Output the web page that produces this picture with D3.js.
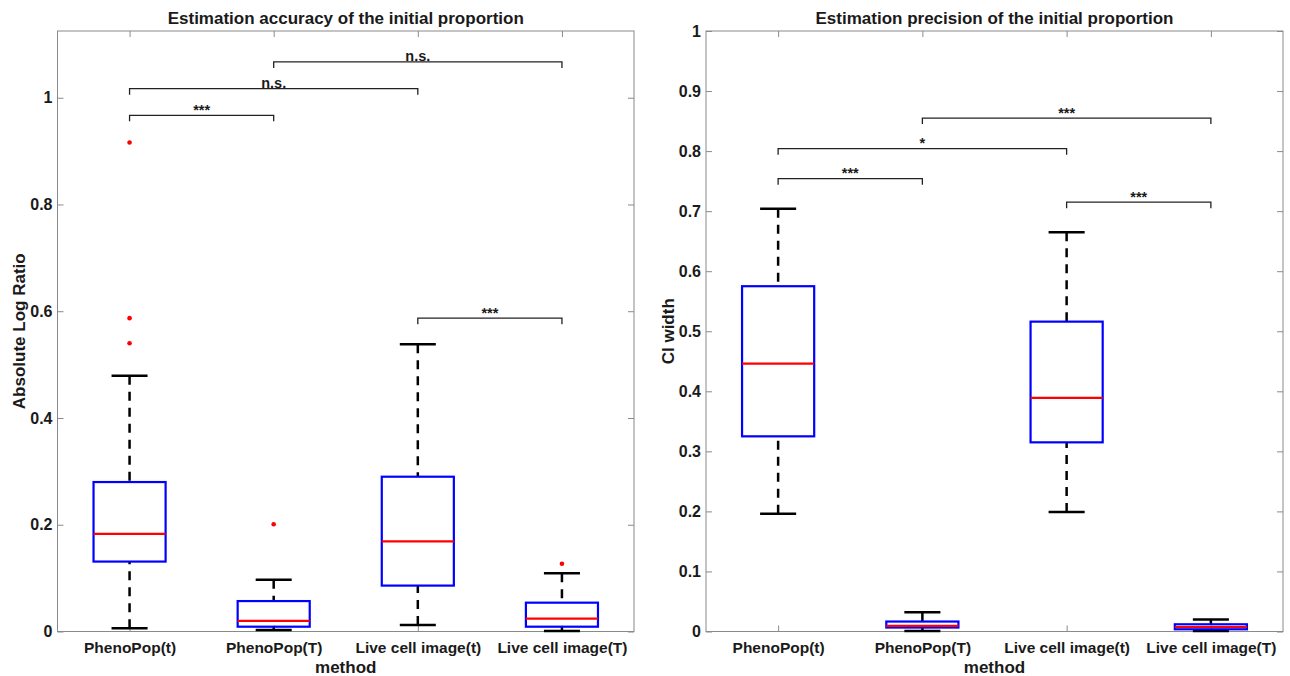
<!DOCTYPE html>
<html>
<head>
<meta charset="utf-8">
<script src="https://cdn.jsdelivr.net/npm/d3@7"></script>
<style>
  html, body { margin: 0; padding: 0; background: #fff; }
  svg text { font-family: "Liberation Sans", Arial, Helvetica, sans-serif; font-weight: bold; fill: #1a1a1a; }
</style>
</head>
<body>
<svg id="chart" width="1290" height="676"></svg>
<script>
// categories shared by both panels
var categories = ["PhenoPop(t)", "PhenoPop(T)", "Live cell image(t)", "Live cell image(T)"];

// left panel: absolute log ratio
var accLow = [0.006, 0.003, 0.012, 0.001];
var accQ1 = [0.131, 0.009, 0.086, 0.009];
var accMedian = [0.183, 0.020, 0.169, 0.024];
var accQ3 = [0.280, 0.057, 0.290, 0.054];
var accHigh = [0.479, 0.097, 0.538, 0.109];
var accOutliers = [[0.916, 0.587, 0.540], [0.201], [], [0.127]];
var accTicks = [0, 0.2, 0.4, 0.6, 0.8, 1];
// [from, to, level, label]
var accPairs = [[1, 2, 0.967, "***"], [1, 3, 1.017, "n.s."], [2, 4, 1.067, "n.s."], [3, 4, 0.587, "***"]];

// right panel: CI width
var preLow = [0.196, 0.001, 0.199, 0.001];
var preQ1 = [0.325, 0.0066, 0.315, 0.0037];
var preMedian = [0.446, 0.0095, 0.389, 0.0075];
var preQ3 = [0.575, 0.0166, 0.516, 0.012];
var preHigh = [0.704, 0.032, 0.665, 0.020];
var preOutliers = [[], [], [], []];
var preTicks = [0, 0.1, 0.2, 0.3, 0.4, 0.5, 0.6, 0.7, 0.8, 0.9, 1];
var prePairs = [[1, 2, 0.754, "***"], [1, 3, 0.804, "*"], [2, 4, 0.855, "***"], [3, 4, 0.715, "***"]];

var svg = d3.select("#chart");

function drawPanel(opt) {
    var left = opt.left, right = opt.right, top = 31, bottom = 631.5;

    var x = d3.scaleLinear().domain([0.5, 4.5]).range([left, right]);
    var y = d3.scaleLinear().domain([0, opt.ymax]).range([bottom, top]);

    var g = svg.append("g");
    var fmt = d3.format("~g");

    // axes with inward ticks
    var ax = g.append("g").attr("transform", "translate(" + left + ",0)")
        .call(d3.axisLeft(y).tickValues(opt.ticks).tickSize(-6).tickPadding(5).tickFormat(fmt));
    var axR = g.append("g").attr("transform", "translate(" + right + ",0)")
        .call(d3.axisRight(y).tickValues(opt.ticks).tickSize(-6).tickFormat(""));
    var axB = g.append("g").attr("transform", "translate(0," + bottom + ")")
        .call(d3.axisBottom(x).tickValues([1, 2, 3, 4]).tickSize(-6).tickPadding(10)
            .tickFormat(function(d) { return categories[d - 1]; }));
    var axT = g.append("g").attr("transform", "translate(0," + top + ")")
        .call(d3.axisTop(x).tickValues([1, 2, 3, 4]).tickSize(-6).tickFormat(""));

    [ax, axR, axB, axT].forEach(function(a) {
        a.select(".domain").remove();
        a.selectAll(".tick line").attr("stroke", "#8a8a8a");
        a.selectAll(".tick text").style("font-size", "15.5px").attr("fill", "#1a1a1a");
    });
    ax.selectAll(".tick text").style("font-size", "16px");

    g.append("rect")
        .attr("x", left).attr("y", top)
        .attr("width", right - left).attr("height", bottom - top)
        .attr("fill", "none").attr("stroke", "#8a8a8a").attr("stroke-width", 1);

    var idx = d3.range(categories.length);
    var boxW = x(1.25) - x(1);
    var capW = x(1.125) - x(1);

    // whiskers
    var wl = g.append("g").attr("stroke", "#000").attr("stroke-width", 2.5).attr("stroke-dasharray", "9,7").attr("fill", "none");
    idx.forEach(function(i) {
        wl.append("line").attr("x1", x(i + 1)).attr("x2", x(i + 1))
            .attr("y1", y(opt.high[i])).attr("y2", y(opt.q3[i]));
        wl.append("line").attr("x1", x(i + 1)).attr("x2", x(i + 1))
            .attr("y1", y(opt.low[i])).attr("y2", y(opt.q1[i]));
    });
    var caps = g.append("g").attr("stroke", "#000").attr("stroke-width", 2.5);
    idx.forEach(function(i) {
        [opt.high[i], opt.low[i]].forEach(function(v) {
            caps.append("line").attr("x1", x(i + 1) - capW).attr("x2", x(i + 1) + capW)
                .attr("y1", y(v)).attr("y2", y(v));
        });
    });

    // boxes
    g.append("g").selectAll("rect").data(idx).enter().append("rect")
        .attr("x", function(i) { return x(i + 1) - boxW; })
        .attr("y", function(i) { return y(opt.q3[i]); })
        .attr("width", boxW * 2)
        .attr("height", function(i) { return y(opt.q1[i]) - y(opt.q3[i]); })
        .attr("fill", "none").attr("stroke", "#0000ff").attr("stroke-width", 2.2);

    g.append("g").selectAll("line").data(idx).enter().append("line")
        .attr("x1", function(i) { return x(i + 1) - boxW; })
        .attr("x2", function(i) { return x(i + 1) + boxW; })
        .attr("y1", function(i) { return y(opt.median[i]); })
        .attr("y2", function(i) { return y(opt.median[i]); })
        .attr("stroke", "#ff0000").attr("stroke-width", 2.2);

    // outliers
    var pts = [];
    opt.outliers.forEach(function(arr, i) { arr.forEach(function(v) { pts.push([i + 1, v]); }); });
    g.append("g").selectAll("circle").data(pts).enter().append("circle")
        .attr("cx", function(d) { return x(d[0]); })
        .attr("cy", function(d) { return y(d[1]); })
        .attr("r", 2.3).attr("fill", "#ff0000");

    // significance brackets
    var br = g.append("g");
    opt.pairs.forEach(function(p) {
        var x1 = x(p[0]), x2 = x(p[1]), yy = y(p[2]);
        br.append("path")
            .attr("d", "M" + x1 + "," + (yy + 6) + "V" + yy + "H" + x2 + "V" + (yy + 6))
            .attr("fill", "none").attr("stroke", "#222").attr("stroke-width", 1.3);
        br.append("text").attr("x", (x1 + x2) / 2).attr("y", yy - 0.5)
            .attr("text-anchor", "middle").style("font-size", "14.5px")
            .text(p[3]);
    });

    // titles and labels
    var cx = (left + right) / 2;
    g.append("text").attr("x", cx).attr("y", 24).attr("text-anchor", "middle")
        .style("font-size", "17px").text(opt.title);
    g.append("text").attr("x", cx).attr("y", 673).attr("text-anchor", "middle")
        .style("font-size", "17px").text("method");
    g.append("text").attr("transform", "translate(" + opt.ylabelX + "," + ((top + bottom) / 2) + ") rotate(-90)")
        .attr("text-anchor", "middle").attr("dy", "0.35em")
        .style("font-size", "17px").text(opt.ylabel);
}

drawPanel({
    left: 57.5, right: 634, ymax: 1.125, ticks: accTicks,
    low: accLow, q1: accQ1, median: accMedian, q3: accQ3, high: accHigh,
    outliers: accOutliers, pairs: accPairs,
    title: "Estimation accuracy of the initial proportion",
    ylabel: "Absolute Log Ratio", ylabelX: 19.5
});

drawPanel({
    left: 706, right: 1283, ymax: 1, ticks: preTicks,
    low: preLow, q1: preQ1, median: preMedian, q3: preQ3, high: preHigh,
    outliers: preOutliers, pairs: prePairs,
    title: "Estimation precision of the initial proportion",
    ylabel: "CI width", ylabelX: 668
});
</script>
</body>
</html>
